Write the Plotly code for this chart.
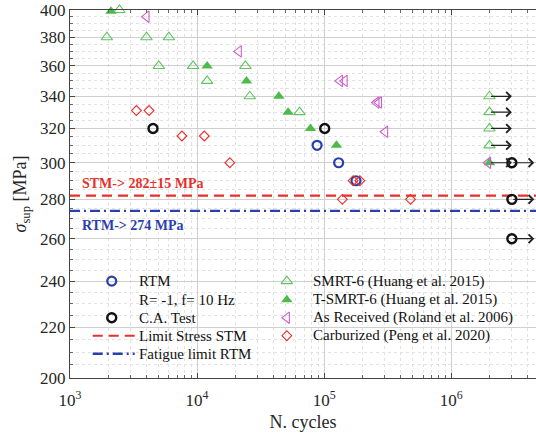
import numpy as np
import plotly.graph_objects as go

# ---------------- data ----------------
rtm_N = [88000, 130000, 178000]
rtm_S = [310, 300, 290]

ca_N = [4500, 101000]
ca_S = [320, 320]
ca_run_N = [3.0e6, 3.0e6, 3.0e6]
ca_run_S = [300, 280, 260]

smrt_N = [2450, 1950, 4000, 6000, 5000, 9300, 12000, 24000, 26000, 64000]
smrt_S = [400, 380, 380, 380, 360, 360, 350, 360, 340, 330]
smrt_run_N = [2.0e6, 2.0e6, 2.0e6, 2.0e6]
smrt_run_S = [340, 330, 320, 310]

tsmrt_N = [2100, 12000, 24500, 44000, 52000, 78000, 125000]
tsmrt_S = [399, 360, 350, 340, 330, 320, 310]
tsmrt_run_N = [2.0e6]
tsmrt_run_S = [300]

asr_N = [4000, 21300, 133000, 145000, 258000, 270000, 302000, 1.95e6]
asr_S = [395, 370, 350, 350, 336, 336, 318, 300]

carb_N = [3330, 4190, 7600, 11400, 18100, 169000, 191000, 139000, 478000]
carb_S = [331, 331, 315.5, 315.5, 300, 290, 290, 280, 280]

stm_limit = 282
rtm_limit = 274
x_range_N = [1e3, 4.65e6]

run_factor = 1.5  # arrow length (ratio in N)

y_ticks = [200, 220, 240, 260, 280, 300, 320, 340, 360, 380, 400]
x_ticks = [1e3, 1e4, 1e5, 1e6]
x_ticktext = ["10<sup>3</sup>", "10<sup>4</sup>", "10<sup>5</sup>", "10<sup>6</sup>"]

legend_left = ["RTM", "R= -1, f= 10 Hz", "C.A. Test", "Limit Stress STM", "Fatigue limit RTM"]
legend_right = ["SMRT-6 (Huang et al. 2015)", "T-SMRT-6 (Huang et al. 2015)",
                "As Received (Roland et al. 2006)", "Carburized (Peng et al. 2020)"]

# ---------------- styling ----------------
FONT = "Liberation Serif, Times New Roman, Times, serif"
BLUE = "#2a3fae"
RED = "#e8302a"
GREEN = "#5cc55c"
GREEN_F = "#4cbb4c"
MAG = "#cc5fcc"
BLACK = "#111111"

STY = {
    "RTM": dict(mode="markers", marker=dict(symbol="circle-open", size=9, color=BLUE, line=dict(width=2.2))),
    "CA": dict(mode="markers", marker=dict(symbol="circle-open", size=9, color=BLACK, line=dict(width=2.4))),
    "STM_L": dict(mode="lines", line=dict(color=RED, width=2.2, dash="10px,6px")),
    "RTM_L": dict(mode="lines", line=dict(color=BLUE, width=2.4, dash="10px,4px,2px,4px")),
    "SMRT": dict(mode="markers", marker=dict(symbol="triangle-up-open", size=10, color=GREEN, line=dict(width=1.1))),
    "TSMRT": dict(mode="markers", marker=dict(symbol="triangle-up", size=10, color=GREEN_F, line=dict(width=0))),
    "ASR": dict(mode="markers", marker=dict(symbol="triangle-left-open", size=10, color=MAG, line=dict(width=1.1))),
    "CARB": dict(mode="markers", marker=dict(symbol="diamond-open", size=7.5, color=RED, line=dict(width=1.1))),
}

fig = go.Figure()

def add(x, y, key, **kw):
    fig.add_trace(go.Scatter(x=x, y=y, showlegend=False, cliponaxis=False, hoverinfo="skip", **STY[key], **kw))

add(x_range_N, [stm_limit] * 2, "STM_L")
add(x_range_N, [rtm_limit] * 2, "RTM_L")
add(rtm_N, rtm_S, "RTM")
add(ca_N + ca_run_N, ca_S + ca_run_S, "CA")
add(smrt_N + smrt_run_N, smrt_S + smrt_run_S, "SMRT")
add(tsmrt_N + tsmrt_run_N, tsmrt_S + tsmrt_run_S, "TSMRT")
add(asr_N, asr_S, "ASR")
add(carb_N, carb_S, "CARB")

# ---------- hand-made two-column legend on an overlay axis (0..1 units) ----------
PX_L, PX_T, PW, PH = 70.3, 10.3, 465.7, 367.4
def fx(px): return (px - PX_L) / PW
def fy(py): return (PX_T + PH - py) / PH

rows = [281, 299.5, 317.5, 335.5, 353.5]
left_keys = ["RTM", None, "CA", "STM_L", "RTM_L"]
right_keys = ["SMRT", "TSMRT", "ASR", "CARB"]
annotations = []
for key, label, py in zip(left_keys, legend_left, rows):
    if key is not None:
        if STY[key]["mode"] == "lines":
            add([fx(93), fx(135)], [fy(py)] * 2, key, xaxis="x2", yaxis="y2")
        else:
            add([fx(112)], [fy(py)], key, xaxis="x2", yaxis="y2")
    annotations.append(dict(x=fx(137), y=fy(py), xref="paper", yref="paper", xanchor="left",
                            yanchor="middle", text=label, showarrow=False,
                            font=dict(family=FONT, size=15, color="#111")))
for key, label, py in zip(right_keys, legend_right, rows):
    add([fx(287)], [fy(py)], key, xaxis="x2", yaxis="y2")
    annotations.append(dict(x=fx(311), y=fy(py), xref="paper", yref="paper", xanchor="left",
                            yanchor="middle", text=label, showarrow=False,
                            font=dict(family=FONT, size=15, color="#111")))

# run-out arrows
for n, s in zip(smrt_run_N + tsmrt_run_N + ca_run_N, smrt_run_S + tsmrt_run_S + ca_run_S):
    annotations.append(dict(x=np.log10(n * run_factor), y=np.log10(s), ax=np.log10(n), ay=np.log10(s),
                            xref="x", yref="y", axref="x", ayref="y", text="", showarrow=True,
                            arrowhead=4, arrowsize=1.4, arrowwidth=1.2, arrowcolor="#222222"))

annotations.append(dict(x=fx(80), y=fy(183.5), xref="paper", yref="paper", xanchor="left", yanchor="middle",
                        text="<b>STM-> 282±15 MPa</b>", showarrow=False,
                        font=dict(family=FONT, size=14, color=RED)))
annotations.append(dict(x=fx(80), y=fy(225), xref="paper", yref="paper", xanchor="left", yanchor="middle",
                        text="<b>RTM-> 274 MPa</b>", showarrow=False,
                        font=dict(family=FONT, size=14, color=BLUE)))

# minor tick positions
x_minor = [m * 10 ** e for e in range(3, 7) for m in range(2, 10)]
y_minor = [v for v in range(205, 400, 5) if v % 20 != 0]

fig.update_layout(
    width=536, height=434,
    margin=dict(l=PX_L, r=0, t=PX_T, b=434 - PX_T - PH),
    paper_bgcolor="white", plot_bgcolor="white",
    font=dict(family=FONT, size=16, color="#262626"),
    annotations=annotations,
    showlegend=False,
    shapes=[dict(type="rect", xref="paper", yref="paper", x0=fx(77), x1=1, y0=fy(365), y1=fy(270),
                 fillcolor="white", line=dict(width=0), layer="between")],
    xaxis=dict(type="log", range=[np.log10(x_range_N[0]), 6.667],
               tickvals=x_ticks, ticktext=x_ticktext, tickfont=dict(size=17),
               ticklabelstandoff=7,
               showline=True, linecolor="#444", linewidth=1, mirror="allticks",
               ticks="inside", ticklen=5, tickcolor="#444",
               showgrid=True, gridcolor="#cfcfcf", gridwidth=1,
               minor=dict(tickvals=x_minor, ticks="inside", ticklen=3, tickcolor="#666",
                          showgrid=True, gridcolor="#e2e2e2", griddash="dot", gridwidth=1),
               title=dict(text="N. cycles", font=dict(size=18), standoff=5),
               zeroline=False),
    yaxis=dict(type="log", range=[np.log10(200), np.log10(400)],
               tickvals=y_ticks, ticktext=[str(v) for v in y_ticks], tickfont=dict(size=17),
               showline=True, linecolor="#444", linewidth=1,
               ticks="inside", ticklen=5, tickcolor="#444",
               showgrid=True, gridcolor="#cfcfcf", gridwidth=1,
               minor=dict(tickvals=y_minor, ticks="inside", ticklen=3, tickcolor="#666",
                          showgrid=True, gridcolor="#e2e2e2", griddash="dot", gridwidth=1),
               title=dict(text="<i>σ</i><sub>sup</sub> [MPa]", font=dict(size=18), standoff=8),
               zeroline=False),
    xaxis2=dict(overlaying="x", range=[0, 1], visible=False, fixedrange=True),
    yaxis2=dict(overlaying="y", range=[0, 1], visible=False, fixedrange=True),
)

fig.write_html("out.html")
